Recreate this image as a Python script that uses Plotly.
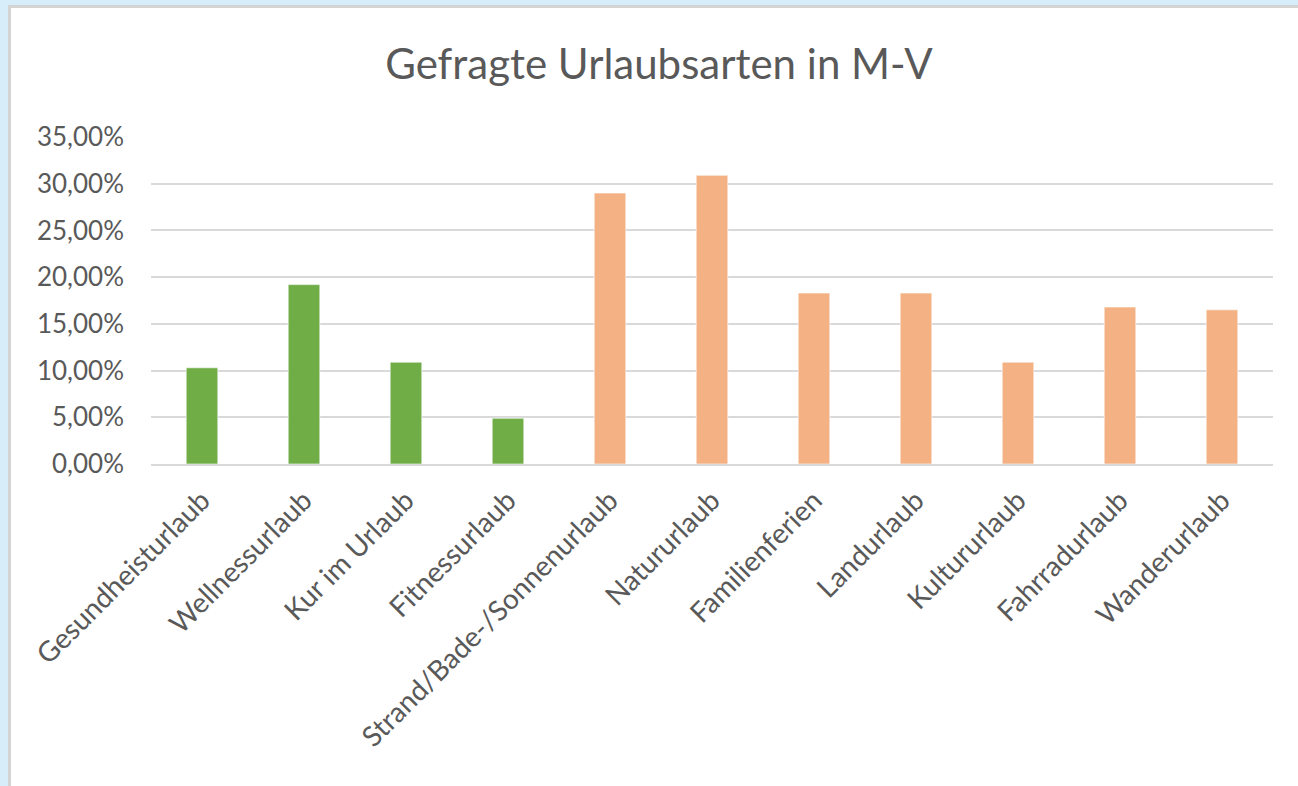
import plotly.graph_objects as go

categories = ["Gesundheisturlaub", "Wellnessurlaub", "Kur im Urlaub", "Fitnessurlaub",
              "Strand/Bade-/Sonnenurlaub", "Natururlaub", "Familienferien", "Landurlaub",
              "Kultururlaub", "Fahrradurlaub", "Wanderurlaub"]
values = [0.103, 0.192, 0.109, 0.049, 0.290, 0.309, 0.183, 0.183, 0.109, 0.168, 0.165]
groups = ["green"] * 4 + ["orange"] * 7
group_colors = {"green": "#70AD47", "orange": "#F4B183"}
y_ticks = [0, 0.05, 0.10, 0.15, 0.20, 0.25, 0.30, 0.35]

W, H = 1298, 786
ML, MR, MT, MB = 151, 25, 137, 322
pw, ph = W - ML - MR, H - MT - MB

def px_x(p):
    return (p - ML) / pw

def px_y(p):
    return (H - MB - p) / ph

fig = go.Figure()
fig.add_trace(go.Bar(
    x=categories, y=values,
    marker=dict(color=[group_colors[g] for g in groups],
                line=dict(color="rgba(255,255,255,0.6)", width=1)),
    width=0.31,
    hoverinfo="x+y",
))

font_family = "Lato, 'Open Sans', sans-serif"

fig.update_layout(
    width=W, height=H,
    margin=dict(l=ML, r=MR, t=MT, b=MB),
    paper_bgcolor="#D8EDFA",
    plot_bgcolor="rgba(0,0,0,0)",
    separators=",.",
    showlegend=False,
    title=dict(text="Gefragte Urlaubsarten in M-V", x=659 / W, xanchor="center",
               y=1 - 64 / H, yanchor="middle",
               font=dict(family=font_family, size=42, color="#595959")),
    font=dict(family=font_family, color="#595959"),
    xaxis=dict(showgrid=False, showline=True, linecolor="#D9D9D9", linewidth=2,
               tickangle=-45, tickfont=dict(size=28, color="#595959"),
               ticks="", range=[-0.5, 10.5], ticklabelstandoff=7),
    yaxis=dict(range=[0, 0.35], tickvals=y_ticks, tickformat=".2%",
               showgrid=True, gridcolor="#D9D9D9", gridwidth=2,
               zeroline=False, showline=False, ticks="",
               tickfont=dict(size=26, color="#595959"),
               ticklabelstandoff=26),
    shapes=[
        dict(type="rect", xref="paper", yref="paper", layer="below",
             x0=px_x(9.5), x1=px_x(W + 20), y0=px_y(H + 20), y1=px_y(6.5),
             fillcolor="white", line=dict(color="#D4D4D4", width=3)),
    ],
)

fig.write_html(
    "out.html",
    config={"displayModeBar": False},
    post_script="document.body.style.margin='0';document.body.style.overflow='hidden';"
                "document.documentElement.style.overflow='hidden';",
)
